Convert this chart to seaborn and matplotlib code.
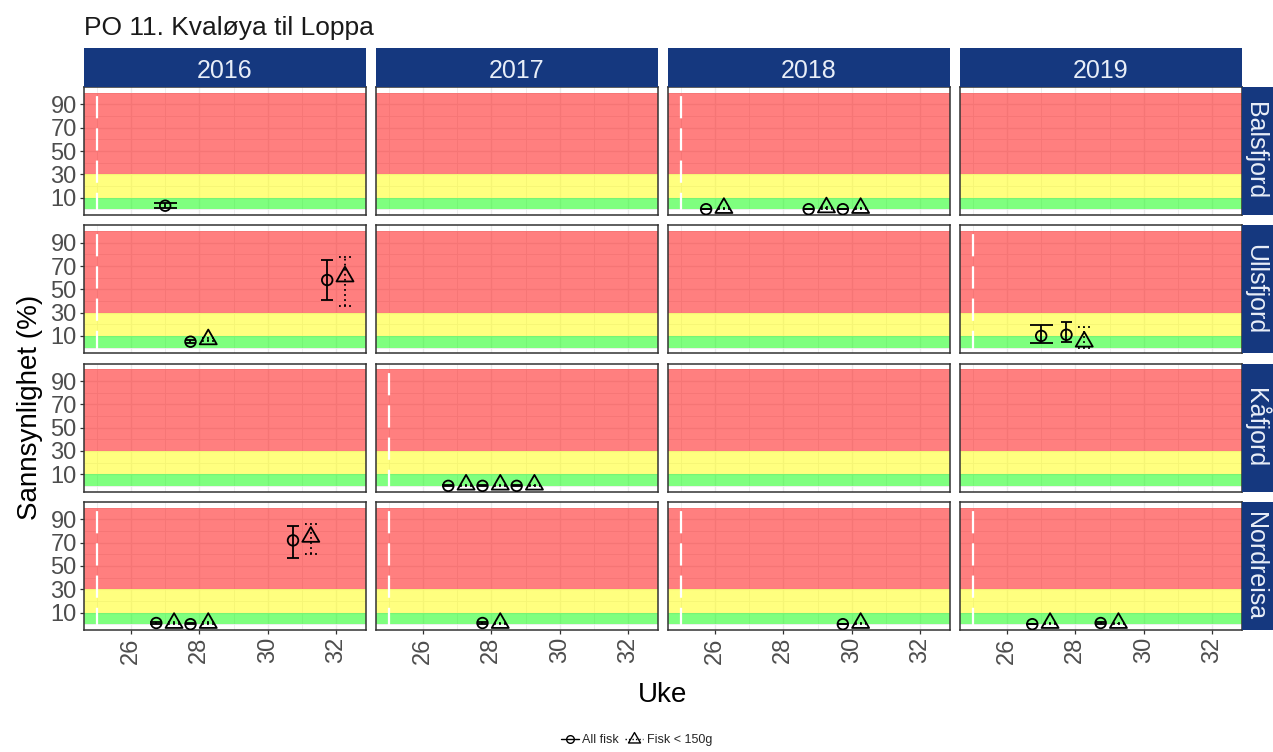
import numpy as np
import pandas as pd
import matplotlib
matplotlib.use("Agg")
import matplotlib.pyplot as plt
from matplotlib.lines import Line2D
from matplotlib.patches import Rectangle
from matplotlib.path import Path
from matplotlib.ticker import FixedLocator, MultipleLocator
import seaborn as sns

# Facet levels
aar_niva = [2016, 2017, 2018, 2019]
lokalitet_niva = ["Balsfjord", "Ullsfjord", "Kåfjord", "Nordreisa"]
gruppe_niva = ["All fisk", "Fisk < 150g"]

# Estimated probability (%) per week with lower / upper interval
aar = [2016] * 11 + [2017] * 8 + [2018] * 8 + [2019] * 7
lokalitet = (["Balsfjord"] + ["Ullsfjord"] * 4 + ["Nordreisa"] * 6
             + ["Kåfjord"] * 6 + ["Nordreisa"] * 2
             + ["Balsfjord"] * 6 + ["Nordreisa"] * 2
             + ["Ullsfjord"] * 3 + ["Nordreisa"] * 4)
uke = [27, 28, 28, 32, 32, 27, 27, 28, 28, 31, 31,
       27, 27, 28, 28, 29, 29, 28, 28,
       26, 26, 29, 29, 30, 30, 30, 30,
       27, 28, 28, 27, 27, 29, 29]
gruppe = (["All fisk"]
          + ["All fisk", "Fisk < 150g"] * 5
          + ["All fisk", "Fisk < 150g"] * 4
          + ["All fisk", "Fisk < 150g"] * 4
          + ["All fisk", "All fisk", "Fisk < 150g"]
          + ["All fisk", "Fisk < 150g"] * 2)
verdi = [3, 5, 7, 58, 61, 1, 1, 0, 1, 72, 75,
         0, 1, 0, 1, 0, 1, 1, 1,
         0, 1, 0, 1.5, 0, 1, 0, 1,
         10, 11, 5, 0, 1, 1, 1]
nedre = [1, 4, 6, 41, 36, 0, 0, 0, 0, 57, 60,
         0, 0, 0, 0, 0, 0, 0, 0,
         0, 0, 0, 0.5, 0, 0, 0, 0,
         4, 5, 0, 0, 0, 0, 0]
ovre = [5.5, 6.5, 8, 75, 78, 2, 2, 1, 1.5, 84, 86,
        0.5, 1, 0.5, 1, 0.5, 1, 2, 1,
        0.5, 1, 0.5, 2, 0.5, 1, 0.5, 1,
        19, 22, 18, 0.5, 1, 2, 1]

# Risk bands (%)
baand_grenser = [0, 10, 30, 100]
baand_farger = ["#00FF00", "#FFFF00", "#FF0000"]

startuke = 25
x_ticks = [26, 28, 30, 32]
y_ticks = [10, 30, 50, 70, 90]
y_minor = [0, 20, 40, 60, 80, 100]

# Style
DODGE = 0.26
CAP_HALF = 0.34
STRIP_BLUE = "#15387f"
STRIP_TEXT = "#e8eef8"

sns.set_theme(style="white")
plt.rcParams["font.family"] = ["Liberation Sans", "DejaVu Sans"]

df = pd.DataFrame({"aar": aar, "lokalitet": lokalitet, "uke": uke,
                   "gruppe": gruppe, "verdi": verdi,
                   "nedre": nedre, "ovre": ovre})
n_per_uke = df.groupby(["aar", "lokalitet", "uke"])["gruppe"].transform("count")
side = np.where(df["gruppe"] == gruppe_niva[0], -1.0, 1.0)
df["x"] = df["uke"] + np.where(n_per_uke > 1, side * DODGE, 0.0)
df["halv"] = CAP_HALF / n_per_uke

# open triangle with its centroid on the data point
trekant = Path([(0, 1), (-0.866, -0.5), (0.866, -0.5), (0, 1)],
               [Path.MOVETO, Path.LINETO, Path.LINETO, Path.CLOSEPOLY])

stil = {
    "All fisk": dict(marker="o", s=58, ls="solid"),
    "Fisk < 150g": dict(marker=trekant, s=200, ls=(0, (1, 1.8))),
}

g = sns.FacetGrid(df, row="lokalitet", col="aar",
                  row_order=lokalitet_niva, col_order=aar_niva,
                  height=1.8, aspect=2.2, sharex=True, sharey=True,
                  despine=False)

for ax in g.axes.flat:
    for lo, hi, farge in zip(baand_grenser[:-1], baand_grenser[1:], baand_farger):
        ax.axhspan(lo, hi, color=farge, alpha=0.5, lw=0, zorder=1)


def tegn(data, **kws):
    ax = plt.gca()
    ax.axvline(startuke, color="white", lw=1.6, ls=(0, (10, 4.5)), zorder=2)
    for grp in gruppe_niva:
        sub = data[data["gruppe"] == grp]
        if sub.empty:
            continue
        st = stil[grp]
        ax.vlines(sub["x"], sub["nedre"], sub["ovre"], colors="black",
                  lw=1.3, linestyles=st["ls"], zorder=3)
        for kant in ("nedre", "ovre"):
            ax.hlines(sub[kant], sub["x"] - sub["halv"], sub["x"] + sub["halv"],
                      colors="black", lw=1.3, linestyles=st["ls"], zorder=3)
        sns.scatterplot(data=sub, x="x", y="verdi", marker=st["marker"],
                        s=st["s"], facecolor="none", edgecolor="black",
                        linewidth=1.3, zorder=4, legend=False, ax=ax)


g.map_dataframe(tegn)

nrow, ncol = g.axes.shape
for i in range(nrow):
    for j in range(ncol):
        ax = g.axes[i, j]
        ax.set_title("")
        ax.set_xlabel("")
        ax.set_ylabel("")
        ax.set_xlim(24.625, 32.875)
        ax.set_ylim(-5, 105)
        ax.set_xticks(x_ticks)
        ax.set_yticks(y_ticks)
        ax.xaxis.set_minor_locator(MultipleLocator(1))
        ax.yaxis.set_minor_locator(FixedLocator(y_minor))
        ax.set_axisbelow(True)
        ax.grid(True, which="major", color="#EBEBEB", lw=1.0)
        ax.grid(True, which="minor", color="#EBEBEB", lw=0.6)
        ax.tick_params(which="minor", length=0)
        ax.tick_params(which="major", length=3.2, width=0.9, color="#333333",
                       labelsize=17, labelcolor="#4D4D4D", pad=2)
        ax.tick_params(axis="x", labelrotation=90)
        ax.tick_params(axis="x", bottom=(i == nrow - 1),
                       length=3.2 if i == nrow - 1 else 0)
        ax.tick_params(axis="y", left=(j == 0),
                       length=3.2 if j == 0 else 0)
        for sp in ax.spines.values():
            sp.set_color("#333333")
            sp.set_linewidth(1.1)

fig = g.figure
fig.set_size_inches(12.73, 7.52)
fig.subplots_adjust(left=84 / 1273, right=1242 / 1273,
                    top=1 - 87 / 752, bottom=1 - 630 / 752,
                    wspace=10 / 282, hspace=10.3 / 128)

# facet strips
for j, a in enumerate(aar_niva):
    ax = g.axes[0, j]
    ax.add_patch(Rectangle((0, 1), 1, 39 / 128, transform=ax.transAxes,
                           facecolor=STRIP_BLUE, edgecolor="none",
                           clip_on=False, zorder=5))
    ax.text(0.5, 1 + 8.5 / 128, str(a), transform=ax.transAxes,
            ha="center", va="baseline", fontsize=18, color=STRIP_TEXT,
            zorder=6, clip_on=False)

for i, lok in enumerate(lokalitet_niva):
    ax = g.axes[i, -1]
    ax.add_patch(Rectangle((1, 0), 40 / 282, 1, transform=ax.transAxes,
                           facecolor=STRIP_BLUE, edgecolor="none",
                           clip_on=False, zorder=5))
    ax.text(1 + 6 / 282, 0.5, lok, transform=ax.transAxes,
            rotation=-90, rotation_mode="anchor", ha="center", va="baseline",
            fontsize=18, color=STRIP_TEXT, zorder=6, clip_on=False)

fig.text(84 / 1273, 1 - 35 / 752, "PO 11. Kvaløya til Loppa",
         ha="left", va="baseline", fontsize=19, color="#1a1a1a")
fig.text(37 / 1273, 1 - 407 / 752, "Sannsynlighet (%)", rotation=90,
         rotation_mode="anchor", ha="center", va="baseline",
         fontsize=20, color="black")
fig.text(663 / 1273, 1 - 702 / 752, "Uke", ha="center", va="baseline",
         fontsize=20, color="black")

handles = [
    Line2D([], [], color="black", lw=1.0, marker="o", ms=5.5,
           mfc="none", mec="black", mew=1.0),
    Line2D([], [], color="black", lw=1.0, ls=(0, (1, 1.5)), marker=trekant,
           ms=10, mfc="none", mec="black", mew=1.0),
]
fig.legend(handles, gruppe_niva, loc="center", bbox_to_anchor=(0.5, 1 - 740 / 752),
           ncol=2, frameon=False, fontsize=9, handlelength=1.4,
           handletextpad=0.3, columnspacing=0.5)

fig.savefig("out.png", dpi=100, facecolor="white")
